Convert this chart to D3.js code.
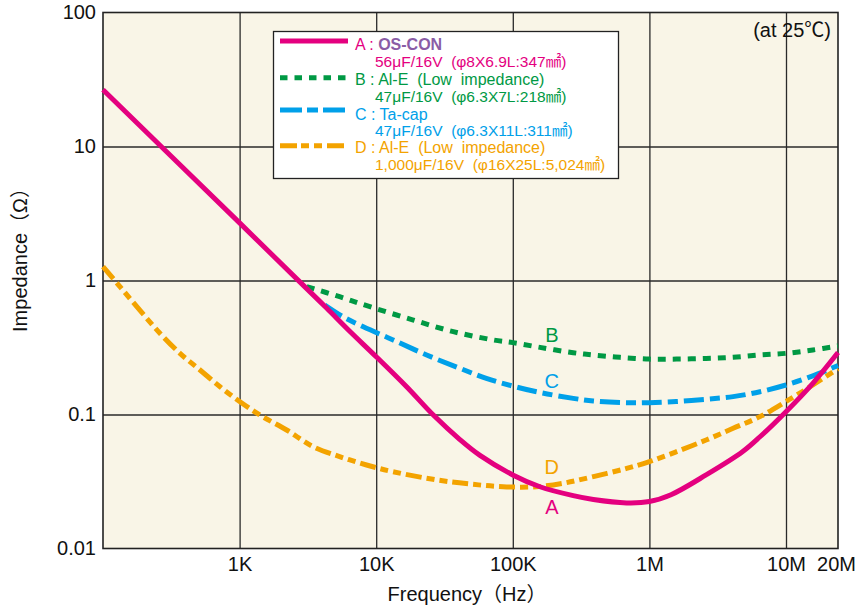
<!DOCTYPE html>
<html>
<head>
<meta charset="utf-8">
<script src="https://cdn.jsdelivr.net/npm/d3@7"></script>
<style>
  body { margin: 0; background: #fff; }
  svg { display: block; font-family: "Liberation Sans", Arial, "Noto Sans CJK JP", sans-serif; }
  .pre { white-space: pre; }
</style>
</head>
<body>
<svg id="chart" width="856" height="610"></svg>
<script>
// frequency (Hz) and impedance (ohm)
const freqA = [100, 1000, 2930, 4350, 6400, 10e3, 16.7e3, 26.2e3, 41e3, 57.5e3, 100e3, 158e3, 277e3, 389e3, 681e3, 1e6, 1.44e6, 2.6e6, 4.8e6, 6.45e6, 10e6, 14.3e6, 20e6];
const zA = [26.5, 2.69, 0.92, 0.62, 0.418, 0.27, 0.161, 0.099, 0.065, 0.0495, 0.0354, 0.0289, 0.0248, 0.0232, 0.0219, 0.0224, 0.0252, 0.0354, 0.0527, 0.0682, 0.105, 0.171, 0.29];

const freqB = [3.1e3, 5.4e3, 9e3, 18.7e3, 36.7e3, 72e3, 100e3, 158e3, 277e3, 389e3, 610e3, 1e6, 1.58e6, 2.6e6, 4.1e6, 6.45e6, 10e6, 14.3e6, 20e6];
const zB = [0.9, 0.757, 0.637, 0.507, 0.415, 0.36, 0.344, 0.317, 0.289, 0.278, 0.267, 0.259, 0.259, 0.262, 0.267, 0.278, 0.286, 0.303, 0.325];

const freqC = [4.2e3, 5.7e3, 8.05e3, 13.3e3, 23.4e3, 41e3, 64e3, 100e3, 158e3, 277e3, 389e3, 681e3, 1e6, 1.58e6, 2.6e6, 4.1e6, 6.45e6, 10e6, 14.3e6, 20e6];
const zC = [0.656, 0.537, 0.452, 0.36, 0.278, 0.221, 0.186, 0.163, 0.146, 0.132, 0.126, 0.1225, 0.1225, 0.125, 0.13, 0.136, 0.148, 0.166, 0.194, 0.232];

const freqD = [100, 133, 186, 261, 366, 513, 719, 1e3, 1.41e3, 2.21e3, 3.46e3, 5.4e3, 8.5e3, 13.3e3, 27.7e3, 48.5e3, 85e3, 149e3, 234e3, 389e3, 681e3, 1e6, 1.58e6, 2.6e6, 4.1e6, 6.45e6, 10e6, 14.3e6, 20e6];
const zD = [1.27, 0.9, 0.6, 0.404, 0.286, 0.215, 0.161, 0.125, 0.099, 0.0766, 0.0575, 0.0485, 0.042, 0.0374, 0.0325, 0.0303, 0.0289, 0.0289, 0.0307, 0.0344, 0.0396, 0.0445, 0.0528, 0.0645, 0.0789, 0.0964, 0.125, 0.166, 0.22];

const xTicks = [1e3, 1e4, 1e5, 1e6, 1e7, 2e7];
const xTickLabels = ['1K', '10K', '100K', '1M', '10M', '20M'];
const yTicks = [0.01, 0.1, 1, 10, 100];
const yTickLabels = ['0.01', '0.1', '1', '10', '100'];

const seriesNames = ['A', 'B', 'C', 'D'];
const legendTitles = ['A : ', 'B : Al-E  (Low  impedance)', 'C : Ta-cap', 'D : Al-E  (Low  impedance)'];
const legendSpecs = ['56\u03bcF/16V  (\u03c68X6.9L:347\u339f)', '47\u03bcF/16V  (\u03c66.3X7L:218\u339f)', '47\u03bcF/16V  (\u03c66.3X11L:311\u339f)', '1,000\u03bcF/16V  (\u03c616X25L:5,024\u339f)'];
// where the curve letters sit, in data units
const labelFreq = [193e3, 193e3, 193e3, 193e3];
const labelZ = [0.0205, 0.392, 0.179, 0.0407];

const colors = {A: '#e4007f', B: '#009944', C: '#00a0e9', D: '#f3a300'};
const dashes = {A: null, B: '8,7', C: '20,6,10,6', D: '16,5,8,5,8,5'};
const legendDashes = {A: null, B: '7.5,7', C: '22,5,11,5', D: '17,4,8,5,8,5'};

const svg = d3.select('#chart');
const plot = {left: 103, right: 838, top: 12.5, bottom: 548.5};

// the 10M-20M stretch is drawn wider than a true log step in the original
const x = d3.scaleLog().domain([100, 1e7, 2e7]).range([plot.left, 786, plot.right]);
const y = d3.scaleLog().domain([0.01, 100]).range([plot.bottom, plot.top]);

svg.append('rect')
  .attr('x', plot.left).attr('y', plot.top)
  .attr('width', plot.right - plot.left).attr('height', plot.bottom - plot.top)
  .attr('fill', '#f9f5e7');

// grid
svg.append('g').attr('class', 'grid')
  .attr('transform', `translate(0,${plot.bottom})`)
  .call(d3.axisBottom(x).tickValues(xTicks.slice(0, 5)).tickSize(-(plot.bottom - plot.top)).tickFormat(''))
  .call(g => g.select('.domain').remove())
  .call(g => g.selectAll('line').attr('stroke', '#2a2a2a').attr('stroke-width', 1.3));

svg.append('g').attr('class', 'grid')
  .attr('transform', `translate(${plot.left},0)`)
  .call(d3.axisLeft(y).tickValues(yTicks.slice(1, 4)).tickSize(-(plot.right - plot.left)).tickFormat(''))
  .call(g => g.select('.domain').remove())
  .call(g => g.selectAll('line').attr('stroke', '#2a2a2a').attr('stroke-width', 1.3));

svg.append('rect')
  .attr('x', plot.left).attr('y', plot.top)
  .attr('width', plot.right - plot.left).attr('height', plot.bottom - plot.top)
  .attr('fill', 'none').attr('stroke', '#222').attr('stroke-width', 1.6);

// tick labels
svg.append('g')
  .attr('transform', `translate(0,${plot.bottom})`)
  .call(d3.axisBottom(x).tickValues(xTicks).tickSize(0).tickPadding(8)
    .tickFormat((d, i) => xTickLabels[i]))
  .call(g => g.select('.domain').remove())
  .call(g => g.selectAll('text').attr('font-size', 20).attr('fill', '#111')
    .attr('font-family', '"Liberation Sans", Arial, sans-serif'))
  .call(g => g.selectAll('.tick').filter(d => d === 2e7).select('text').attr('dx', -2));

svg.append('g')
  .attr('transform', `translate(${plot.left},0)`)
  .call(d3.axisLeft(y).tickValues(yTicks).tickSize(0).tickPadding(7)
    .tickFormat((d, i) => yTickLabels[i]))
  .call(g => g.select('.domain').remove())
  .call(g => g.selectAll('text').attr('font-size', 20).attr('fill', '#111')
    .attr('font-family', '"Liberation Sans", Arial, sans-serif'));

svg.append('text')
  .attr('x', 467).attr('y', 601)
  .attr('text-anchor', 'middle').attr('font-size', 20).attr('fill', '#111')
  .text('Frequency\uff08Hz\uff09');

svg.append('text')
  .attr('transform', 'translate(27,255) rotate(-90)')
  .attr('text-anchor', 'middle').attr('font-size', 20).attr('fill', '#111')
  .text('Impedance\uff08\u03a9\uff09');

svg.append('text')
  .attr('x', 831).attr('y', 37)
  .attr('text-anchor', 'end').attr('font-size', 20).attr('fill', '#111')
  .text('(at 25\u2103)');

// curves
const series = {
  A: freqA.map((f, i) => ({f, z: zA[i]})),
  B: freqB.map((f, i) => ({f, z: zB[i]})),
  C: freqC.map((f, i) => ({f, z: zC[i]})),
  D: freqD.map((f, i) => ({f, z: zD[i]}))
};

const line = d3.line()
  .x(d => x(d.f))
  .y(d => y(d.z))
  .curve(d3.curveCatmullRom.alpha(0.5));

['D', 'C', 'B', 'A'].forEach(k => {
  svg.append('path')
    .datum(series[k])
    .attr('d', line)
    .attr('fill', 'none')
    .attr('stroke', colors[k])
    .attr('stroke-width', 5)
    .attr('stroke-dasharray', dashes[k]);
});

svg.append('g').selectAll('text')
  .data(seriesNames)
  .join('text')
  .attr('x', (d, i) => x(labelFreq[i]))
  .attr('y', (d, i) => y(labelZ[i]))
  .attr('dy', '0.36em')
  .attr('text-anchor', 'middle')
  .attr('font-size', 20)
  .attr('fill', d => colors[d])
  .text(d => d);

// legend
const legend = svg.append('g');
legend.append('rect')
  .attr('x', 273.5).attr('y', 31.5).attr('width', 345).attr('height', 147)
  .attr('fill', '#fff').attr('stroke', '#222').attr('stroke-width', 1.3);

const legendLineY = [41, 77.7, 110, 145.7];
const legendBase = [50, 85, 119.5, 153];

seriesNames.forEach((k, i) => {
  legend.append('line')
    .attr('x1', 280).attr('x2', 348)
    .attr('y1', legendLineY[i]).attr('y2', legendLineY[i])
    .attr('stroke', colors[k]).attr('stroke-width', 5)
    .attr('stroke-dasharray', legendDashes[k]);

  const t = legend.append('text')
    .attr('class', 'pre')
    .attr('x', 355).attr('y', legendBase[i])
    .attr('font-size', 16).attr('fill', colors[k]);
  t.append('tspan').text(legendTitles[i]);
  if (k === 'A') {
    t.append('tspan').attr('fill', '#8a5ca6').attr('font-weight', 'bold').text('OS-CON');
  }

  legend.append('text')
    .attr('class', 'pre')
    .attr('x', 375).attr('y', legendBase[i] + 16.5)
    .attr('font-size', 15.5).attr('fill', colors[k])
    .text(legendSpecs[i]);
});
</script>
</body>
</html>
